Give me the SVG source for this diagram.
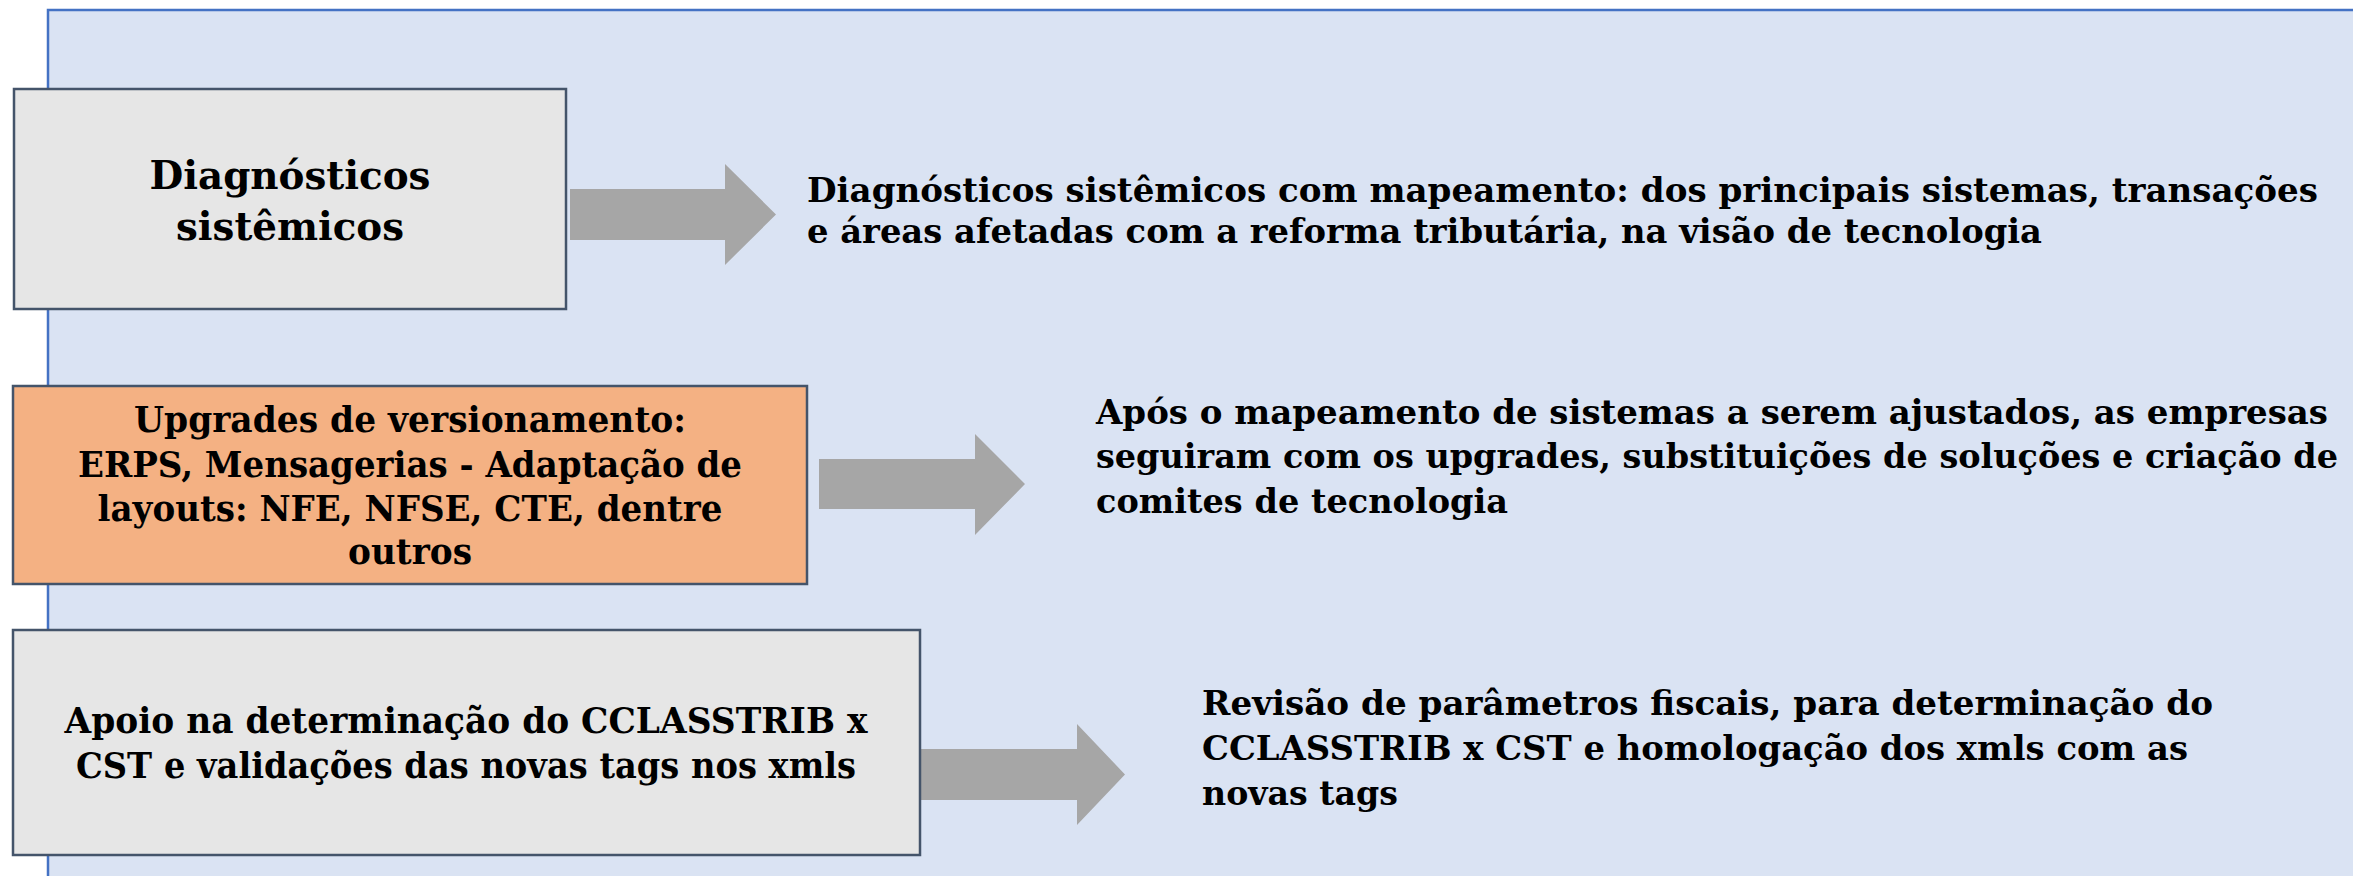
<svg xmlns="http://www.w3.org/2000/svg" width="2353" height="876" viewBox="0 0 2353 876">
  <defs>
    <style>
      .panel { fill: #DAE3F3; stroke: #4472C4; stroke-width: 2.5; }
      .box { stroke: #44546A; stroke-width: 2.5; }
      .grey { fill: #E6E6E6; }
      .orange { fill: #F4B183; }
      .arrow { fill: #A6A6A6; stroke: none; }
      .t { font-family: "DejaVu Serif", "Liberation Serif", serif; font-weight: bold; fill: #000000; }
      .c { text-anchor: middle; }
    </style>
  </defs>
  <rect x="0" y="0" width="2353" height="876" fill="#FFFFFF"/>
  <rect class="panel" x="48" y="10" width="2320" height="880"/>

  <g id="connectors">
    <polygon class="arrow" points="570,189 725,189 725,164 776,214.5 725,265 725,240 570,240"/>
    <polygon class="arrow" points="819,459 975,459 975,434 1025,484 975,535 975,509 819,509"/>
    <polygon class="arrow" points="920,749 1077,749 1077,724 1125,774.5 1077,825 1077,800 920,800"/>
  </g>

  <g id="node-diagnosticos">
    <rect class="box grey" x="14" y="89" width="552" height="220"/>
    <text class="t c" font-size="40" x="290" y="189" textLength="281" lengthAdjust="spacingAndGlyphs">Diagnósticos</text>
    <text class="t c" font-size="40" x="290" y="240" textLength="228" lengthAdjust="spacingAndGlyphs">sistêmicos</text>
  </g>

  <g id="node-upgrades">
    <rect class="box orange" x="13" y="386" width="794" height="198"/>
    <text class="t c" font-size="35" x="410" y="432" textLength="552" lengthAdjust="spacingAndGlyphs">Upgrades de versionamento:</text>
    <text class="t c" font-size="35" x="410" y="477" textLength="664" lengthAdjust="spacingAndGlyphs">ERPS, Mensagerias - Adaptação de</text>
    <text class="t c" font-size="35" x="410" y="521" textLength="625" lengthAdjust="spacingAndGlyphs">layouts: NFE, NFSE, CTE, dentre</text>
    <text class="t c" font-size="35" x="410" y="564" textLength="124" lengthAdjust="spacingAndGlyphs">outros</text>
  </g>

  <g id="node-apoio">
    <rect class="box grey" x="13" y="630" width="907" height="225"/>
    <text class="t c" font-size="35" x="466" y="733" textLength="803" lengthAdjust="spacingAndGlyphs">Apoio na determinação do CCLASSTRIB x</text>
    <text class="t c" font-size="35" x="466" y="778" textLength="780" lengthAdjust="spacingAndGlyphs">CST e validações das novas tags nos xmls</text>
  </g>

  <g id="desc-diagnosticos">
    <text class="t" font-size="34" x="807" y="202" textLength="1511" lengthAdjust="spacingAndGlyphs">Diagnósticos sistêmicos com mapeamento: dos principais sistemas, transações</text>
    <text class="t" font-size="34" x="807" y="243" textLength="1235" lengthAdjust="spacingAndGlyphs">e áreas afetadas com a reforma tributária, na visão de tecnologia</text>
  </g>

  <g id="desc-upgrades">
    <text class="t" font-size="34" x="1096" y="424" textLength="1232" lengthAdjust="spacingAndGlyphs">Após o mapeamento de sistemas a serem ajustados, as empresas</text>
    <text class="t" font-size="34" x="1096" y="468" textLength="1242" lengthAdjust="spacingAndGlyphs">seguiram com os upgrades, substituições de soluções e criação de</text>
    <text class="t" font-size="34" x="1096" y="513" textLength="412" lengthAdjust="spacingAndGlyphs">comites de tecnologia</text>
  </g>

  <g id="desc-apoio">
    <text class="t" font-size="34" x="1202" y="715" textLength="1011" lengthAdjust="spacingAndGlyphs">Revisão de parâmetros fiscais, para determinação do</text>
    <text class="t" font-size="34" x="1202" y="760" textLength="986" lengthAdjust="spacingAndGlyphs">CCLASSTRIB x CST e homologação dos xmls com as</text>
    <text class="t" font-size="34" x="1202" y="805" textLength="196" lengthAdjust="spacingAndGlyphs">novas tags</text>
  </g>
</svg>
